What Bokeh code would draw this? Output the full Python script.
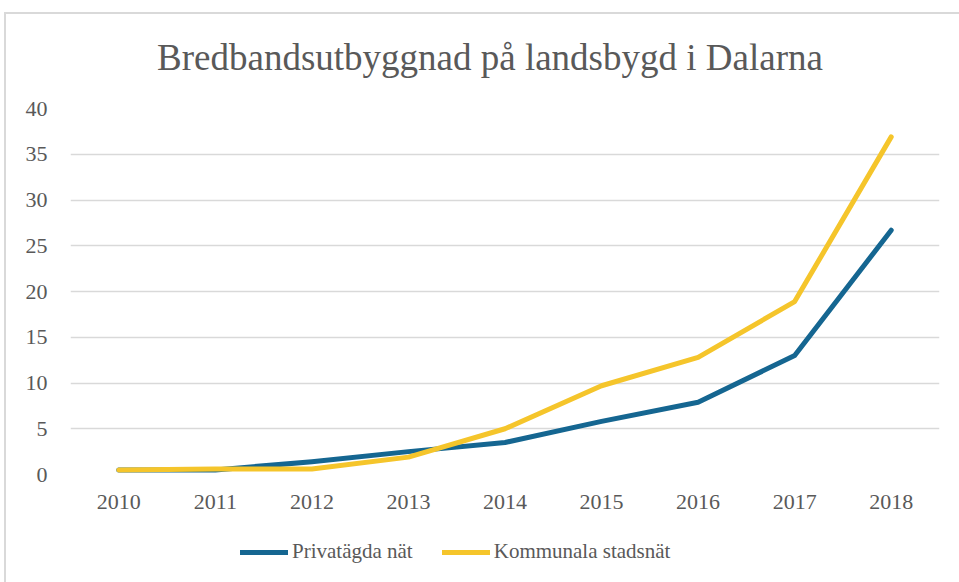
from bokeh.plotting import figure
from bokeh.layouts import column
from bokeh.models import Legend, LegendItem, Range1d, FixedTicker, Label
from bokeh.embed import file_html
from bokeh.resources import INLINE

years = ["2010", "2011", "2012", "2013", "2014", "2015", "2016", "2017", "2018"]
privat = [0.5, 0.5, 1.4, 2.5, 3.5, 5.8, 7.9, 13.0, 26.7]
kommunal = [0.5, 0.6, 0.6, 1.9, 5.0, 9.7, 12.8, 18.9, 36.9]
y_ticks = [0, 5, 10, 15, 20, 25, 30, 35, 40]
series_names = ["Privatägda nät", "Kommunala stadsnät"]
series_colors = ["#156691", "#f5c52b"]
title_text = "Bredbandsutbyggnad på landsbygd i Dalarna"

FONT = "Liberation Serif"
GRAY = "#595959"


def blank(fig):
    fig.outline_line_color = None
    fig.xgrid.grid_line_color = None
    fig.ygrid.grid_line_color = None
    fig.border_fill_color = "white"
    fig.background_fill_color = "white"


# ---- title strip ----
tt = figure(x_range=Range1d(0, 1), y_range=Range1d(0, 1), width=953, height=79,
            output_backend="svg", toolbar_location=None,
            x_axis_location=None, y_axis_location=None, min_border=0)
blank(tt)
tt.add_layout(Label(x=0.4827, y=0.456, text=title_text, text_font=FONT,
                    text_font_size="37px", text_color=GRAY,
                    text_align="center", text_baseline="middle"))

# ---- main chart ----
p = figure(x_range=years, y_range=Range1d(0, 40), width=953, height=432,
           output_backend="svg", toolbar_location=None)
p.x_range.range_padding = 0

p.min_border_left = 64
p.min_border_right = 20
p.min_border_top = 15
p.min_border_bottom = 51
p.outline_line_color = None
p.background_fill_color = "white"
p.border_fill_color = "white"

p.yaxis.ticker = FixedTicker(ticks=y_ticks)
for ax in (p.xaxis, p.yaxis):
    ax.axis_line_color = None
    ax.major_tick_line_color = None
    ax.minor_tick_line_color = None
    ax.major_label_text_font = FONT
    ax.major_label_text_color = GRAY
p.xaxis.major_label_text_font_size = "22px"
p.yaxis.major_label_text_font_size = "22px"
p.xaxis.major_label_standoff = 14
p.yaxis.major_label_standoff = 17

p.xgrid.grid_line_color = None
p.ygrid.grid_line_color = "#d9d9d9"
p.ygrid.grid_line_width = 1.5

for vals, col in zip([privat, kommunal], series_colors):
    p.line(years, vals, line_color=col, line_width=5,
           line_cap="round", line_join="round")

# ---- legend strip (same series, drawn out of view; only the legend shows) ----
lg = figure(x_range=years, y_range=Range1d(100, 101), width=953, height=57,
            output_backend="svg", toolbar_location=None,
            x_axis_location=None, y_axis_location=None, min_border=0)
blank(lg)

items = []
for vals, col, name in zip([privat, kommunal], series_colors, series_names):
    r = lg.line(years, vals, line_color=col, line_width=5,
                line_cap="round", line_join="round")
    items.append(LegendItem(label=name, renderers=[r]))

legend = Legend(items=items, orientation="horizontal", location=(170, 18),
                label_text_font=FONT, label_text_font_size="21px",
                label_text_color=GRAY, glyph_width=48, glyph_height=20,
                label_standoff=4, spacing=29, border_line_color=None,
                background_fill_alpha=0, margin=0, padding=0)
lg.add_layout(legend)

layout = column(tt, p, lg, spacing=0, margin=(12, 0, 0, 4),
                styles={"border-left": "2px solid #d9d9d9",
                        "border-top": "2px solid #d9d9d9"})

open("out.html", "w").write(file_html(layout, INLINE))
